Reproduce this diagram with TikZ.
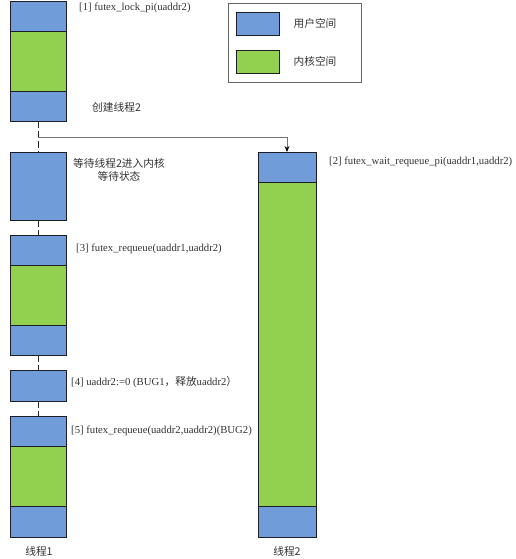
\documentclass[tikz,border=0pt]{standalone}
\usepackage{fontspec}
\setmainfont{Liberation Serif}
\newfontfamily\cjk{Noto Sans CJK SC}
\usetikzlibrary{arrows.meta}
\definecolor{ublue}{RGB}{112,156,218}
\definecolor{kgreen}{RGB}{146,208,80}
\definecolor{edge}{RGB}{30,30,40}
\begin{document}
\begin{tikzpicture}[x=1pt,y=-1pt,
  blk/.style={draw=edge, line width=0.8pt, anchor=north west, inner sep=0pt, outer sep=0pt, minimum width=56pt},
  ub/.style={blk, fill=ublue},
  kg/.style={blk, fill=kgreen},
  rb/.style={minimum width=58pt},
  lbl/.style={anchor=west, inner sep=0pt, font=\fontsize{10.7}{13}\selectfont, text=black!80},
  conn/.style={draw=black!85, line width=0.7pt, dash pattern=on 7pt off 3pt},
  link/.style={draw=black!55, line width=0.9pt, -{Stealth[length=6pt,width=5pt,color=black]}}]
\useasboundingbox (0,0) rectangle (516,559);
% legend
\node[draw=black!60, line width=1.2pt, anchor=north west, minimum width=133pt, minimum height=79pt, inner sep=0pt] (leg) at (228,3) {};
\node[ub, minimum width=43pt, minimum height=23pt] (lu) at (236,12) {};
\node[kg, minimum width=43pt, minimum height=23pt] (lk) at (236,50) {};
\node[lbl, anchor=center] (lut) at (315,23) {\cjk 用户空间};
\node[lbl, anchor=center] (lkt) at (315,61) {\cjk 内核空间};
% thread 1
\node[ub, minimum height=30pt] (a1) at (10,1) {};
\node[kg, minimum height=60pt] (a2) at (10,31) {};
\node[ub, minimum height=30pt] (a3) at (10,91) {};
\node[ub, minimum height=68pt] (b) at (10,152) {};
\node[ub, minimum height=30pt] (c1) at (10,235) {};
\node[kg, minimum height=60pt] (c2) at (10,265) {};
\node[ub, minimum height=30pt] (c3) at (10,325) {};
\node[ub, minimum height=31pt] (d) at (10,370) {};
\node[ub, minimum height=30pt] (e1) at (10,416) {};
\node[kg, minimum height=60pt] (e2) at (10,446) {};
\node[ub, minimum height=31pt] (e3) at (10,506) {};
% thread 2
\node[ub, rb, minimum height=30pt] (r1) at (258,152) {};
\node[kg, rb, minimum height=324pt] (r2) at (258,182) {};
\node[ub, rb, minimum height=31pt] (r3) at (258,506) {};
% connectors
\draw[conn] (a3.south) -- (b.north);
\draw[conn] (b.south) -- (c1.north);
\draw[conn] (c3.south) -- (d.north);
\draw[conn] (d.south) -- (e1.north);
\coordinate (j) at (a3.south |- 0,137);
\draw[link] (j) -| (r1.north);
% labels
\node[lbl] (t1) at (79,8) {[1] futex\_lock\_pi(uaddr2)};
\node[lbl] (tc) at (92,107) {\cjk 创建线程2};
\node[lbl, anchor=center, align=center] (tw) at (119,170) {\cjk 等待线程2进入内核\\\cjk 等待状态};
\node[lbl] (t2) at (329,162) {[2] futex\_wait\_requeue\_pi(uaddr1,uaddr2)};
\node[lbl] (t3) at (76,249) {[3] futex\_requeue(uaddr1,uaddr2)};
\node[lbl] (t4) at (71,382) {[4] uaddr2:=0 (BUG1{\cjk ，释放}uaddr2{\cjk ）}};
\node[lbl] (t5) at (71,431) {[5] futex\_requeue(uaddr2,uaddr2)(BUG2)};
\node[lbl, anchor=center] (n1) at (39,551) {\cjk 线程1};
\node[lbl, anchor=center] (n2) at (287,551) {\cjk 线程2};
\end{tikzpicture}
\end{document}
